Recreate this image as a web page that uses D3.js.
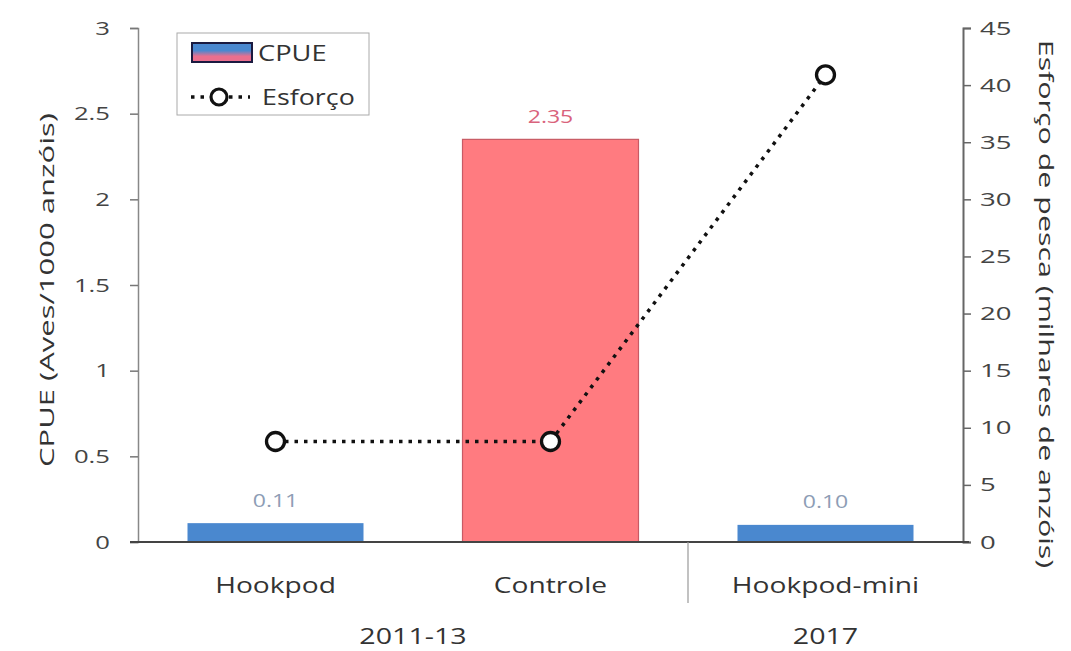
<!DOCTYPE html>
<html><head><meta charset="utf-8">
<script src="https://cdn.jsdelivr.net/npm/d3@7"></script>
<style>body{margin:0;background:#fff}</style>
</head><body>
<svg id="c" width="1071" height="651"></svg>
<script>
const categories = ["Hookpod", "Controle", "Hookpod-mini"];
const cpue = [0.11, 2.35, 0.10];
const cpueLabels = ["0.11", "2.35", "0.10"];
const esforco = [8.8, 8.8, 40.9];
const groups = [{label: "2011-13", from: 0, to: 1}, {label: "2017", from: 2, to: 2}];
const leftTicks = [0, 0.5, 1, 1.5, 2, 2.5, 3];
const rightTicks = [0, 5, 10, 15, 20, 25, 30, 35, 40, 45];
const barColors = ["#4a88cf", "#ff7b80", "#4a88cf"];
const labelColors = ["#8d9db5", "#d9637c", "#8d9db5"];

const font = "'Open Sans', 'Liberation Sans', sans-serif";
const svg = d3.select("#c").style("font-family", font);
const L = 138, R = 963, T = 28, B = 542;

const x = d3.scaleBand().domain(categories).range([L, R]).paddingInner(0.36).paddingOuter(0.18);
const xc = d3.scaleBand().domain(categories).range([L, R]);
const yL = d3.scaleLinear().domain([0, 3]).range([B, T]);
const yR = d3.scaleLinear().domain([0, 45]).range([B, T]);

// place stretched horizontal text
function sText(g, tx, ty, s, rot) {
  return g.append("text").attr("transform", `translate(${tx},${ty})${rot ? ` rotate(${rot})` : ""} scale(${s},1)`);
}
function stretchAxisText(sel, s) {
  sel.each(function () {
    const t = d3.select(this); const xx = +t.attr("x") || 0;
    t.attr("transform", `translate(${xx},0) scale(${s},1) translate(${-xx},0)`);
  });
}

// bars
svg.append("g").selectAll("rect").data(categories).join("rect")
  .attr("x", d => x(d)).attr("width", x.bandwidth())
  .attr("y", (d, i) => yL(cpue[i])).attr("height", (d, i) => B - yL(cpue[i]))
  .attr("fill", (d, i) => barColors[i])
  .attr("stroke", (d, i) => i === 1 ? "#c85a64" : "none").attr("stroke-width", 1.2);

// value labels
const vg = svg.append("g");
categories.forEach((d, i) => {
  sText(vg, xc(d) + xc.bandwidth() / 2, yL(cpue[i]) - 16.5, 1.28)
    .attr("text-anchor", "middle").attr("font-size", 18).attr("fill", labelColors[i])
    .text(cpueLabels[i]);
});

// left axis
const ga = svg.append("g").attr("transform", `translate(${L},0)`)
  .call(d3.axisLeft(yL).tickValues(leftTicks).tickSize(8).tickPadding(20).tickFormat(d => String(d)));
ga.select(".domain").attr("stroke", "#888").attr("stroke-width", 1.5);
ga.selectAll(".tick line").attr("stroke", "#777").attr("stroke-width", 1.5);
ga.selectAll("text").attr("font-size", 19).attr("fill", "#444").attr("font-family", font);
stretchAxisText(ga.selectAll("text"), 1.35);

// right axis
const gr = svg.append("g").attr("transform", `translate(${R},0)`)
  .call(d3.axisRight(yR).tickValues(rightTicks).tickSize(8).tickPadding(9).tickFormat(d => String(d)));
gr.select(".domain").attr("stroke", "#666").attr("stroke-width", 2);
gr.selectAll(".tick line").attr("stroke", "#666").attr("stroke-width", 1.5);
gr.selectAll("text").attr("font-size", 19).attr("fill", "#444").attr("font-family", font);
stretchAxisText(gr.selectAll("text"), 1.45);

// baseline
svg.append("line").attr("x1", L - 8).attr("x2", R + 6).attr("y1", B).attr("y2", B)
  .attr("stroke", "#444").attr("stroke-width", 2);

// separator
svg.append("line").attr("x1", xc(categories[2])).attr("x2", xc(categories[2]))
  .attr("y1", B).attr("y2", 603).attr("stroke", "#999").attr("stroke-width", 1.2);

// category labels
const cg = svg.append("g");
categories.forEach(d => {
  sText(cg, xc(d) + xc.bandwidth() / 2, 593, 1.28)
    .attr("text-anchor", "middle").attr("font-size", 22).attr("fill", "#333").text(d);
});

// group labels
groups.forEach(g => {
  sText(cg, (xc(categories[g.from]) + xc(categories[g.to]) + xc.bandwidth()) / 2, 644, 1.3)
    .attr("text-anchor", "middle").attr("font-size", 22).attr("fill", "#333").text(g.label);
});

// line
const line = d3.line().x((d, i) => xc(categories[i]) + xc.bandwidth() / 2).y(d => yR(d));
svg.append("path").datum(esforco).attr("d", line).attr("fill", "none")
  .attr("stroke", "#111").attr("stroke-width", 3.5).attr("stroke-dasharray", "3.5 6");
svg.append("g").selectAll("circle").data(esforco).join("circle")
  .attr("cx", (d, i) => xc(categories[i]) + xc.bandwidth() / 2).attr("cy", d => yR(d))
  .attr("r", 9).attr("fill", "#fff").attr("stroke", "#111").attr("stroke-width", 3.3);

// axis titles
sText(svg, 47, 290, 1.55, -90)
  .attr("text-anchor", "middle").attr("dy", "0.35em").attr("font-size", 20).attr("fill", "#333")
  .text("CPUE (Aves/1000 anzóis)");
sText(svg, 1046, 304, 1.52, 90)
  .attr("text-anchor", "middle").attr("dy", "0.35em").attr("font-size", 20).attr("fill", "#333")
  .text("Esforço de pesca (milhares de anzóis)");

// legend
const lg = svg.append("g");
lg.append("rect").attr("x", 177).attr("y", 33).attr("width", 192).attr("height", 82)
  .attr("fill", "#fff").attr("stroke", "#aaa").attr("stroke-width", 1);
const grad = svg.append("defs").append("linearGradient").attr("id", "lgGrad")
  .attr("x1", 0).attr("x2", 0).attr("y1", 0).attr("y2", 1);
grad.append("stop").attr("offset", "0%").attr("stop-color", barColors[0]);
grad.append("stop").attr("offset", "40%").attr("stop-color", barColors[0]);
grad.append("stop").attr("offset", "70%").attr("stop-color", "#ea6f8e");
grad.append("stop").attr("offset", "100%").attr("stop-color", "#ea6f8e");
lg.append("rect").attr("x", 192).attr("y", 43).attr("width", 60).attr("height", 19)
  .attr("fill", "url(#lgGrad)").attr("stroke", "#1a1a40").attr("stroke-width", 2);
sText(lg, 258, 61, 1.24).attr("font-size", 22).attr("fill", "#333").text("CPUE");
lg.append("line").attr("x1", 191).attr("x2", 250).attr("y1", 97).attr("y2", 97)
  .attr("stroke", "#111").attr("stroke-width", 3.5).attr("stroke-dasharray", "3.5 6");
lg.append("circle").attr("cx", 219).attr("cy", 97).attr("r", 8)
  .attr("fill", "#fff").attr("stroke", "#111").attr("stroke-width", 3.2);
sText(lg, 262, 105, 1.22).attr("font-size", 22).attr("fill", "#333").text("Esforço");
</script>
</body></html>
